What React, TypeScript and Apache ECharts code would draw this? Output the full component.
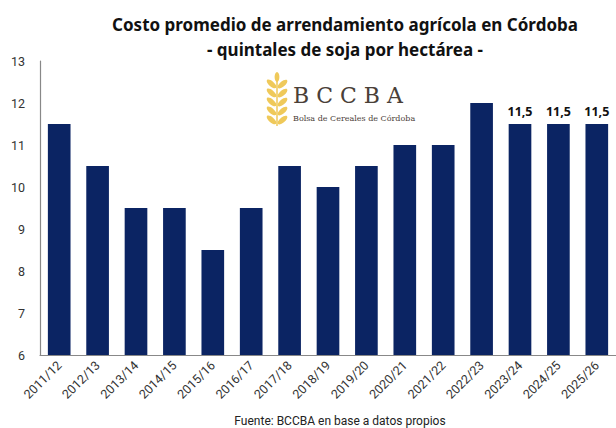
import React, { useEffect, useRef } from "react";
import * as echarts from "echarts";

const categories = ["2011/12","2012/13","2013/14","2014/15","2015/16","2016/17","2017/18","2018/19","2019/20","2020/21","2021/22","2022/23","2023/24","2024/25","2025/26"];
const values = [11.5, 10.5, 9.5, 9.5, 8.5, 9.5, 10.5, 10, 10.5, 11, 11, 12, 11.5, 11.5, 11.5];
const labeledFrom = 12;

const titleLines = ["Costo promedio de arrendamiento agrícola en Córdoba", "- quintales de soja por hectárea -"];
const sourceText = "Fuente: BCCBA en base a datos propios";

export default function App() {
  const ref = useRef<HTMLDivElement>(null);
  useEffect(() => {
    const chart = echarts.init(ref.current!, null, { renderer: "svg" });
    const gold = "#efc95a";
    const leaves: any[] = [];
    const ys = [84, 93, 102, 111, 120];
    ys.forEach((y) => {
      leaves.push({ type: "ellipse", shape: { cx: 271.5, cy: y, rx: 6, ry: 2.6 }, rotation: -0.7, originX: 271.5, originY: y, style: { fill: gold } });
      leaves.push({ type: "ellipse", shape: { cx: 282.5, cy: y, rx: 6, ry: 2.6 }, rotation: 0.7, originX: 282.5, originY: y, style: { fill: gold } });
    });
    leaves.push({ type: "ellipse", shape: { cx: 277, cy: 77, rx: 2.4, ry: 5 }, style: { fill: gold } });
    leaves.push({ type: "line", shape: { x1: 277, y1: 80, x2: 277, y2: 126 }, style: { stroke: gold, lineWidth: 1.5 } });

    chart.setOption({
      animation: false,
      backgroundColor: "#ffffff",
      grid: { left: 40, right: -16, top: 61, bottom: 73, containLabel: false },
      title: {
        text: titleLines.join("\n"),
        left: 340,
        textAlign: "center",
        top: 7,
        textStyle: { fontFamily: "Noto Sans", fontWeight: "bold", fontSize: 17, color: "#111", lineHeight: 25 },
      },
      xAxis: {
        type: "category",
        data: categories,
        axisLine: { show: true, lineStyle: { color: "#888", width: 1.2 } },
        axisTick: { show: false },
        axisLabel: { rotate: 45, interval: 0, fontFamily: "Roboto", fontSize: 12.5, color: "#333", margin: 8 },
      },
      yAxis: {
        type: "value",
        min: 6,
        max: 13,
        interval: 1,
        axisLine: { show: true, lineStyle: { color: "#888", width: 1.2 } },
        axisTick: { show: false },
        splitLine: { show: false },
        axisLabel: { fontFamily: "Roboto", fontSize: 12.5, color: "#333", margin: 15 },
      },
      series: [
        {
          type: "bar",
          data: values.map((v, i) => ({
            value: v,
            label: {
              show: i >= labeledFrom,
              position: "top",
              formatter: (p: any) => String(p.value).replace(".", ","),
              fontFamily: "Open Sans",
              fontWeight: "bold",
              fontSize: 12.5,
              color: "#111",
              distance: 6,
            },
          })),
          barWidth: "59%",
          itemStyle: { color: "#0b2463" },
        },
      ],
      graphic: [
        ...leaves,
        { type: "text", x: 293, y: 84, style: { text: "B C C B A", font: "22px 'DejaVu Serif'", fill: "#4a4038" } },
        { type: "text", x: 293, y: 114, style: { text: "Bolsa de Cereales de Córdoba", font: "8px 'DejaVu Serif'", fill: "#4a4038" } },
        { type: "text", x: 340, y: 415, style: { text: sourceText, font: "12px Roboto", fill: "#222", textAlign: "center" } },
      ],
    });
    return () => chart.dispose();
  }, []);
  return <div ref={ref} style={{ width: 616, height: 428, position: "absolute", left: 0, top: 0 }} />;
}
